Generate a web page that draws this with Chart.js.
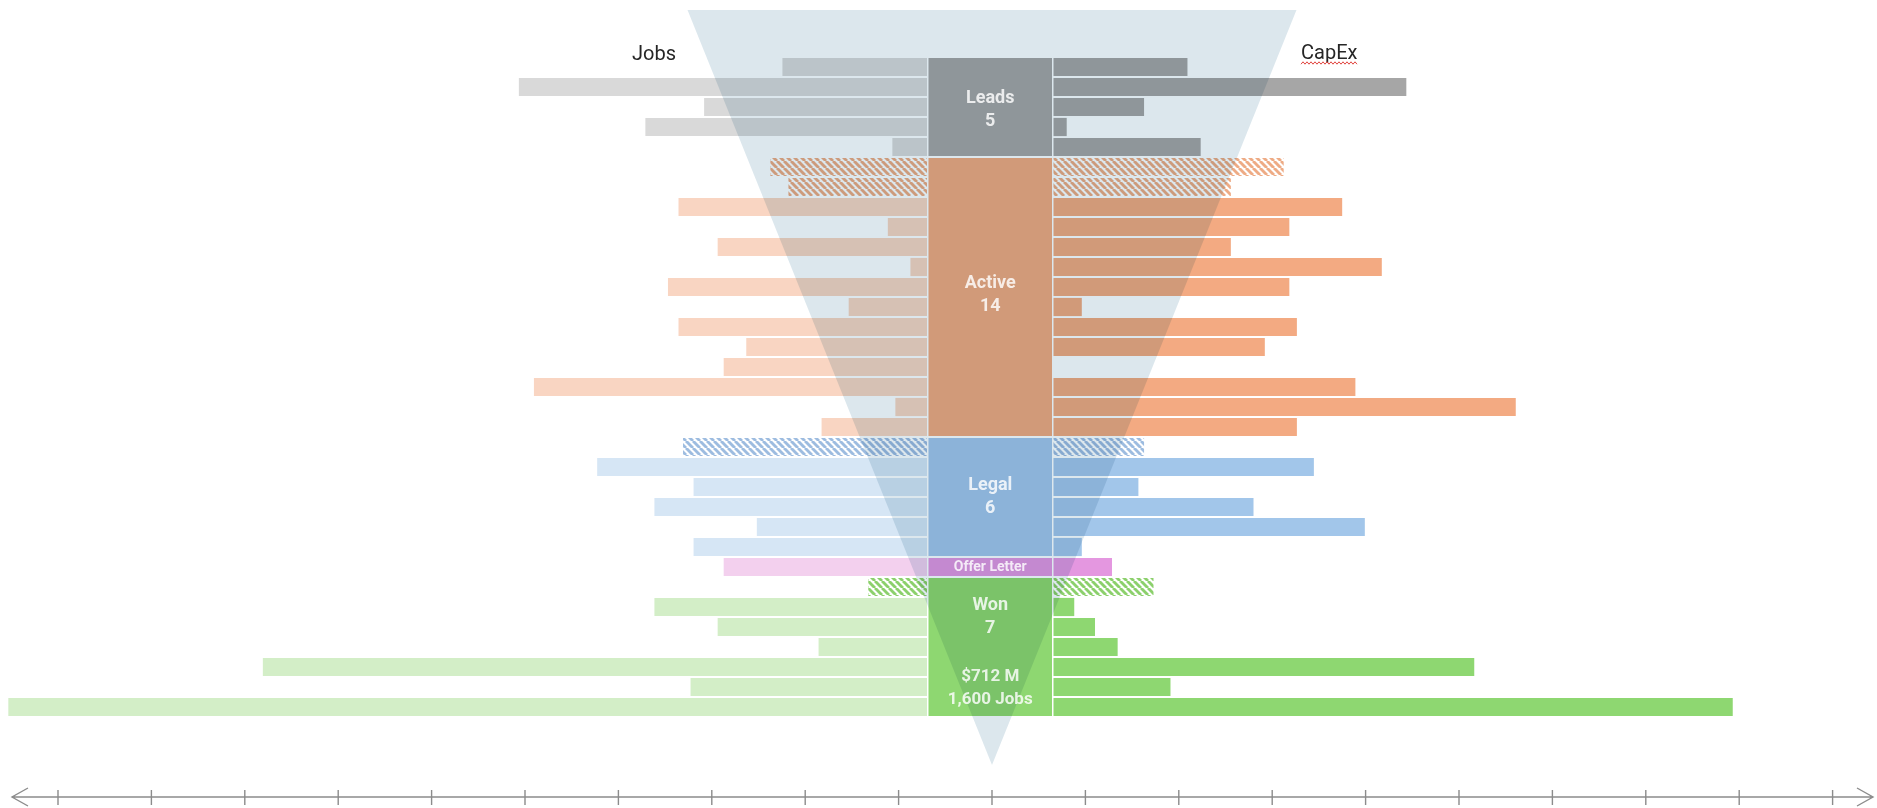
<!DOCTYPE html>
<html>
<head>
<meta charset="utf-8">
<title>Pipeline funnel</title>
<script src="https://cdn.jsdelivr.net/npm/chart.js@4.4.1/dist/chart.umd.min.js"></script>
<style>
  html, body { margin: 0; padding: 0; background: #fff; overflow: hidden; }
  #wrap { width: 1877px; height: 808px; position: relative; }
</style>
</head>
<body>
<div id="wrap"><canvas id="funnel"></canvas></div>
<script>
// pipeline stages, top to bottom
const stages = ['Leads', 'Active', 'Legal', 'Offer Letter', 'Won'];
// first rows of a stage that are still pending (drawn hatched)
const pendingRows = [0, 2, 1, 0, 1];

// jobs per project, one array per stage
const leadsJobs  = [96, 271, 148, 187, 23];
const activeJobs = [104, 92, 165, 26, 139, 11, 172, 52, 165, 120, 135, 261, 21, 70];
const legalJobs  = [162, 219, 155, 181, 113, 155];
const offerJobs  = [135];
const wonJobs    = [39, 181, 139, 72, 441, 157, 610];

// capex per project ($M), one array per stage
const leadsCapex  = [71, 187, 48, 7, 78];
const activeCapex = [122, 94, 153, 125, 94, 174, 125, 15, 129, 112, null, 160, 245, 129];
const legalCapex  = [48, 138, 45, 106, 165, 15];
const offerCapex  = [31];
const wonCapex    = [53, 11, 22, 34, 223, 62, 360];

const jobsByStage  = [leadsJobs, activeJobs, legalJobs, offerJobs, wonJobs];
const capexByStage = [leadsCapex, activeCapex, legalCapex, offerCapex, wonCapex];

// colours
const lightColors  = ['#d9d9d9', '#f9d5c2', '#d6e6f5', '#f3d0ee', '#d3eec7'];
const strongColors = ['#a6a6a6', '#f3aa82', '#a2c6ea', '#e497e0', '#8ed771'];
const hatchColors  = ['#a6a6a6', '#eeab85', '#9dbce0', '#e497e0', '#8cd06c'];

// layout (pixels)
const W = 1877;
const JOBS_BASE = 927, CAP_BASE = 1053.5;
const JOBS_PER_PX = 0.664, CAPEX_PER_PX = 0.53;
const AXIS_CENTER = 992, AXIS_STEP = 93.4, AXIS_Y = 797;
// funnel outline in axis units / row units
const funnelHalf = 3.26, funnelTop = -2.85, funnelTip = 34.9;
// small vertical nudge of each stage caption
const captionShift = [3, -2, 0, 0, 0];

const canvas = document.getElementById('funnel');
const ctx = canvas.getContext('2d');

function hatch(color) {
    const t = document.createElement('canvas');
    t.width = 7; t.height = 7;
    const c = t.getContext('2d');
    c.strokeStyle = color;
    c.lineWidth = 2.9;
    [-7, 0, 7].forEach(x0 => {
        c.beginPath();
        c.moveTo(x0, 0);
        c.lineTo(x0 + 7, 7);
        c.stroke();
    });
    return ctx.createPattern(t, 'repeat');
}
const hatches = hatchColors.map(hatch);

let labels = [], rowStage = [], rowPending = [];
jobsByStage.forEach((arr, s) => {
    arr.forEach((v, i) => {
        labels.push(stages[s] + ' ' + (i + 1));
        rowStage.push(s);
        rowPending.push(i < pendingRows[s]);
    });
});
const jobs = jobsByStage.flat();
const capex = capexByStage.flat();

const jobsColors = rowStage.map((s, i) => rowPending[i] ? hatches[s] : lightColors[s]);
const capexColors = rowStage.map((s, i) => rowPending[i] ? hatches[s] : strongColors[s]);

function sumClosed(arr, s) {
    return arr.slice(pendingRows[s]).reduce((a, b) => a + (b || 0), 0);
}
const wonIdx = stages.indexOf('Won');
const stageText = stages.map((name, s) => {
    if (name === 'Offer Letter') return [name];
    return [name, String(jobsByStage[s].length)];
});

const funnelPlugin = {
    id: 'funnel',
    beforeDatasetsDraw(chart) {
        const c = chart.ctx, y = chart.scales.y;
        const left = chart.scales.xJobs.getPixelForValue(0) + 1.5;
        const right = chart.scales.xCap.getPixelForValue(0) - 1.5;
        const band = y.getPixelForValue(1) - y.getPixelForValue(0);
        let row = 0;
        jobsByStage.forEach((arr, s) => {
            const top = y.getPixelForValue(row) - band / 2;
            const bottom = y.getPixelForValue(row + arr.length - 1) + band / 2;
            c.fillStyle = strongColors[s];
            c.fillRect(left, top + 1, right - left, bottom - top - 2);
            row += arr.length;
        });
    },
    afterDatasetsDraw(chart) {
        const c = chart.ctx, y = chart.scales.y, xa = chart.scales.xAxis;
        // translucent funnel over everything
        c.save();
        c.globalCompositeOperation = 'multiply';
        c.fillStyle = '#dce7ed';
        c.beginPath();
        c.moveTo(xa.getPixelForValue(-funnelHalf), y.getPixelForValue(funnelTop));
        c.lineTo(xa.getPixelForValue(funnelHalf), y.getPixelForValue(funnelTop));
        c.lineTo(xa.getPixelForValue(0), y.getPixelForValue(funnelTip));
        c.closePath();
        c.fill();
        c.restore();

        // stage captions
        const cx = (chart.scales.xJobs.getPixelForValue(0) + chart.scales.xCap.getPixelForValue(0)) / 2;
        const band = y.getPixelForValue(1) - y.getPixelForValue(0);
        c.save();
        c.fillStyle = 'rgba(255,255,255,0.82)';
        c.textAlign = 'center';
        c.textBaseline = 'middle';
        let row = 0;
        jobsByStage.forEach((arr, s) => {
            const top = y.getPixelForValue(row) - band / 2;
            const bottom = y.getPixelForValue(row + arr.length - 1) + band / 2;
            const lines = stageText[s];
            if (lines.length === 1) {
                c.font = 'bold 14px Roboto';
                c.fillText(lines[0], cx, (top + bottom) / 2);
            } else if (s === wonIdx) {
                c.font = 'bold 18px Roboto';
                c.fillText(lines[0], cx, top + 28);
                c.fillText(lines[1], cx, top + 51);
                c.font = 'bold 17px Roboto';
                c.fillText('$' + sumClosed(wonCapex, s) + ' M', cx, bottom - 40);
                c.fillText(sumClosed(wonJobs, s).toLocaleString('en-US') + ' Jobs', cx, bottom - 17);
            } else {
                const mid = (top + bottom) / 2 + captionShift[s];
                c.font = 'bold 18px Roboto';
                c.fillText(lines[0], cx, mid - 11.5);
                c.fillText(lines[1], cx, mid + 11.5);
            }
            row += arr.length;
        });
        c.restore();
    },
    afterDraw(chart) {
        const c = chart.ctx, xa = chart.scales.xAxis;
        c.save();
        // headers
        c.fillStyle = '#262626';
        c.font = '20px Roboto';
        c.textBaseline = 'alphabetic';
        c.textAlign = 'center';
        c.fillText('Jobs', 654, 60);
        c.textAlign = 'left';
        c.fillText('CapEx', 1301, 59);
        const capW = c.measureText('CapEx').width;
        c.strokeStyle = '#e0443e';
        c.lineWidth = 1;
        c.beginPath();
        for (let x = 1301, k = 0; x <= 1301 + capW; x += 2, k++) {
            const yy = 63 + (k % 2 ? -1.2 : 1.2);
            if (k === 0) c.moveTo(x, yy); else c.lineTo(x, yy);
        }
        c.stroke();

        // bottom axis with arrows at both ends
        c.strokeStyle = '#8c8c8c';
        c.lineWidth = 1.4;
        c.beginPath();
        c.moveTo(12, AXIS_Y);
        c.lineTo(W - 4, AXIS_Y);
        c.moveTo(28, AXIS_Y - 9); c.lineTo(12, AXIS_Y); c.lineTo(28, AXIS_Y + 9);
        c.moveTo(W - 20, AXIS_Y - 9); c.lineTo(W - 4, AXIS_Y); c.lineTo(W - 20, AXIS_Y + 9);
        for (let v = Math.ceil(xa.min); v <= Math.floor(xa.max); v++) {
            const px = xa.getPixelForValue(v);
            c.moveTo(px, AXIS_Y - 7);
            c.lineTo(px, AXIS_Y + 8);
        }
        c.stroke();
        c.restore();
    }
};

const barOpts = { grouped: false, barPercentage: 0.91, categoryPercentage: 1, borderWidth: 0, yAxisID: 'y' };

new Chart(ctx, {
    type: 'bar',
    data: {
        labels: labels,
        datasets: [
            Object.assign({ label: 'Jobs', data: jobs, backgroundColor: jobsColors, xAxisID: 'xJobs' }, barOpts),
            Object.assign({ label: 'CapEx', data: capex, backgroundColor: capexColors, xAxisID: 'xCap' }, barOpts)
        ]
    },
    options: {
        indexAxis: 'y',
        responsive: true,
        maintainAspectRatio: false,
        animation: false,
        events: [],
        layout: { padding: { top: 57, bottom: 91, left: 0, right: 0 } },
        plugins: { legend: { display: false }, tooltip: { enabled: false } },
        scales: {
            y: { type: 'category', display: false, offset: true },
            xJobs: {
                type: 'linear', display: false, reverse: true,
                min: -(W - JOBS_BASE) * JOBS_PER_PX, max: JOBS_BASE * JOBS_PER_PX
            },
            xCap: {
                type: 'linear', display: false,
                min: -CAP_BASE * CAPEX_PER_PX, max: (W - CAP_BASE) * CAPEX_PER_PX
            },
            xAxis: {
                type: 'linear', display: false,
                min: -AXIS_CENTER / AXIS_STEP, max: (W - AXIS_CENTER) / AXIS_STEP
            }
        }
    },
    plugins: [funnelPlugin]
});
</script>
</body>
</html>
